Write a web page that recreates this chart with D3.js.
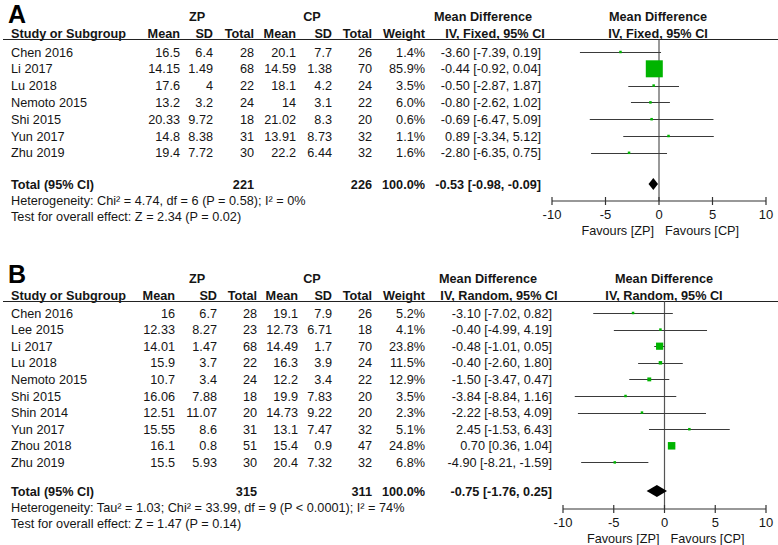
<!DOCTYPE html>
<html><head><meta charset="utf-8">
<script src="https://cdn.jsdelivr.net/npm/d3@7"></script>
<style>
html,body{margin:0;padding:0;background:#fff;}
svg{display:block;font-family:"Liberation Sans",Arial,sans-serif;}
</style></head>
<body>
<svg id="chart" width="778" height="545"></svg>
<script>
// ---------- Panel A data ----------
const studiesA = ["Chen 2016","Li 2017","Lu 2018","Nemoto 2015","Shi 2015","Yun 2017","Zhu 2019"];
const zpMeanA  = [16.5,14.15,17.6,13.2,20.33,14.8,19.4];
const zpSdA    = [6.4,1.49,4,3.2,9.72,8.38,7.72];
const zpNA     = [28,68,22,24,18,31,30];
const cpMeanA  = [20.1,14.59,18.1,14,21.02,13.91,22.2];
const cpSdA    = [7.7,1.38,4.2,3.1,8.3,8.73,6.44];
const cpNA     = [26,70,24,22,20,32,32];
const weightA  = [1.4,85.9,3.5,6.0,0.6,1.1,1.6];
const mdA      = [-3.60,-0.44,-0.50,-0.80,-0.69,0.89,-2.80];
const loA      = [-7.39,-0.92,-2.87,-2.62,-6.47,-3.34,-6.35];
const hiA      = [0.19,0.04,1.87,1.02,5.09,5.12,0.75];
const totalA   = {zpN:221, cpN:226, md:-0.53, lo:-0.98, hi:-0.09};
const hetA     = "Heterogeneity: Chi² = 4.74, df = 6 (P = 0.58); I² = 0%";
const testA    = "Test for overall effect: Z = 2.34 (P = 0.02)";

// ---------- Panel B data ----------
const studiesB = ["Chen 2016","Lee 2015","Li 2017","Lu 2018","Nemoto 2015","Shi 2015","Shin 2014","Yun 2017","Zhou 2018","Zhu 2019"];
const zpMeanB  = [16,12.33,14.01,15.9,10.7,16.06,12.51,15.55,16.1,15.5];
const zpSdB    = [6.7,8.27,1.47,3.7,3.4,7.88,11.07,8.6,0.8,5.93];
const zpNB     = [28,23,68,22,24,18,20,31,51,30];
const cpMeanB  = [19.1,12.73,14.49,16.3,12.2,19.9,14.73,13.1,15.4,20.4];
const cpSdB    = [7.9,6.71,1.7,3.9,3.4,7.83,9.22,7.47,0.9,7.32];
const cpNB     = [26,18,70,24,22,20,20,32,47,32];
const weightB  = [5.2,4.1,23.8,11.5,12.9,3.5,2.3,5.1,24.8,6.8];
const mdB      = [-3.10,-0.40,-0.48,-0.40,-1.50,-3.84,-2.22,2.45,0.70,-4.90];
const loB      = [-7.02,-4.99,-1.01,-2.60,-3.47,-8.84,-8.53,-1.53,0.36,-8.21];
const hiB      = [0.82,4.19,0.05,1.80,0.47,1.16,4.09,6.43,1.04,-1.59];
const totalB   = {zpN:315, cpN:311, md:-0.75, lo:-1.76, hi:0.25};
const hetB     = "Heterogeneity: Tau² = 1.03; Chi² = 33.99, df = 9 (P < 0.0001); I² = 74%";
const testB    = "Test for overall effect: Z = 1.47 (P = 0.14)";

const axisTicks = [-10,-5,0,5,10];
const favours = ["Favours [ZP]","Favours [CP]"];

const svg = d3.select("#chart");
const TXT = "#151515";
const FS = 12.7;
const fmt = d => d.toFixed(2);

function drawPanel(p){
  const g = svg.append("g");
  const n = p.studies.length;
  const t = (x,y,s,anchor,bold,size)=>g.append("text").attr("x",x).attr("y",y).attr("dy","0.36em")
      .attr("text-anchor",anchor||"start").attr("font-size",size||FS).attr("font-weight",bold?"bold":"normal")
      .attr("fill",TXT).text(s);
  // panel letter
  g.append("text").attr("x",8).attr("y",p.letterY).attr("font-size",25).attr("font-weight","bold").attr("fill","#000").text(p.letter);
  // header row 1
  t(p.col.zp, p.h1, "ZP","middle",true);
  t(p.col.cp, p.h1, "CP","middle",true);
  t(p.col.ciHdr1, p.h1, "Mean Difference","middle",true);
  t(p.plotC, p.h1, "Mean Difference","middle",true);
  // header row 2
  t(11,p.h2,"Study or Subgroup","start",true);
  const hdr = [["Mean","m1"],["SD","s1"],["Total","n1"],["Mean","m2"],["SD","s2"],["Total","n2"],["Weight","w"]];
  hdr.forEach(([s,k])=>t(p.col[k],p.h2,s,"end",true));
  t(p.col.ciHdr2,p.h2,p.method,"middle",true);
  t(p.plotC,p.h2,p.method,"middle",true);
  g.append("line").attr("x1",3).attr("x2",778).attr("y1",p.line).attr("y2",p.line).attr("stroke","#222").attr("stroke-width",1);

  const y = d3.scaleLinear().domain([0,n-1]).range([p.row0,p.row0+p.step*(n-1)]);
  const x = d3.scaleLinear().domain([-10,10]).range(p.xr);
  const sz = d3.scaleLinear().domain([0,d3.max(p.weight)]).range([0,p.maxSq]);

  for(let i=0;i<n;i++){
    const yy = y(i);
    t(11,yy,p.studies[i]);
    t(p.col.m1,yy,String(p.zpMean[i]),"end");
    t(p.col.s1,yy,String(p.zpSd[i]),"end");
    t(p.col.n1,yy,String(p.zpN[i]),"end");
    t(p.col.m2,yy,String(p.cpMean[i]),"end");
    t(p.col.s2,yy,String(p.cpSd[i]),"end");
    t(p.col.n2,yy,String(p.cpN[i]),"end");
    t(p.col.w,yy,p.weight[i].toFixed(1)+"%","end");
    t(p.col.ci,yy,`${fmt(p.md[i])} [${fmt(p.lo[i])}, ${fmt(p.hi[i])}]`,"end");
  }
  // zero line
  g.append("line").attr("x1",x(0)).attr("x2",x(0)).attr("y1",p.line).attr("y2",p.axisY).attr("stroke","#555").attr("stroke-width",1.2);
  // CIs and squares
  for(let i=0;i<n;i++){
    const yy = Math.round(y(i))+0.5;
    g.append("line").attr("x1",x(Math.max(-10,p.lo[i]))).attr("x2",x(Math.min(10,p.hi[i]))).attr("y1",yy).attr("y2",yy)
      .attr("stroke","#3a3a3a").attr("stroke-width",1);
  }
  for(let i=0;i<n;i++){
    const s = Math.max(2.5, sz(p.weight[i]));
    g.append("rect").attr("x",x(p.md[i])-s/2).attr("y",y(i)-s/2).attr("width",s).attr("height",s).attr("fill","#00b400");
  }
  // total row
  t(11,p.totalY,"Total (95% CI)","start",true);
  t(p.col.n1,p.totalY,String(p.total.zpN),"end",true);
  t(p.col.n2,p.totalY,String(p.total.cpN),"end",true);
  t(p.col.w,p.totalY,"100.0%","end",true);
  t(p.col.ci,p.totalY,`${fmt(p.total.md)} [${fmt(p.total.lo)}, ${fmt(p.total.hi)}]`,"end",true);
  const dh = 6;
  g.append("path").attr("d",`M${x(p.total.lo)},${p.totalY}L${x(p.total.md)},${p.totalY-dh}L${x(p.total.hi)},${p.totalY}L${x(p.total.md)},${p.totalY+dh}Z`).attr("fill","#000");
  t(11,p.hetY,p.het);
  t(11,p.testY,p.test);
  // axis
  const ax = g.append("g").attr("transform",`translate(0,${p.axisY})`);
  ax.append("line").attr("x1",x(-10)).attr("x2",x(10)).attr("stroke","#333").attr("stroke-width",1.2);
  axisTicks.forEach(v=>{
    ax.append("line").attr("x1",x(v)).attr("x2",x(v)).attr("y1",-4).attr("y2",4).attr("stroke","#333").attr("stroke-width",1.2);
    ax.append("text").attr("x",x(v)).attr("y",13).attr("dy","0.36em").attr("text-anchor","middle").attr("font-size",13).attr("fill",TXT).text(v);
  });
  t(x(0)-5,p.axisY+29,favours[0],"end");
  t(x(0)+6,p.axisY+29,favours[1],"start");
}

drawPanel({
  letter:"A", letterY:23, h1:16, h2:33, line:39.5, row0:52, step:16.8,
  totalY:184, hetY:200, testY:216, axisY:201, xr:[552,766], plotC:658, maxSq:17,
  col:{zp:197,cp:312,m1:180,s1:213,n1:254,m2:296,s2:332,n2:372,w:425,ci:541,ciHdr1:483,ciHdr2:495},
  method:"IV, Fixed, 95% CI",
  studies:studiesA, zpMean:zpMeanA, zpSd:zpSdA, zpN:zpNA, cpMean:cpMeanA, cpSd:cpSdA, cpN:cpNA,
  weight:weightA, md:mdA, lo:loA, hi:hiA, total:totalA, het:hetA, test:testA
});
drawPanel({
  letter:"B", letterY:283, h1:278, h2:295, line:301.5, row0:313, step:16.6,
  totalY:491, hetY:507, testY:523, axisY:509, xr:[563,766], plotC:664, maxSq:7.5,
  col:{zp:197,cp:312,m1:175,s1:217,n1:257,m2:298,s2:332,n2:372,w:425,ci:552,ciHdr1:488,ciHdr2:499},
  method:"IV, Random, 95% CI",
  studies:studiesB, zpMean:zpMeanB, zpSd:zpSdB, zpN:zpNB, cpMean:cpMeanB, cpSd:cpSdB, cpN:cpNB,
  weight:weightB, md:mdB, lo:loB, hi:hiB, total:totalB, het:hetB, test:testB
});
</script>
</body></html>
